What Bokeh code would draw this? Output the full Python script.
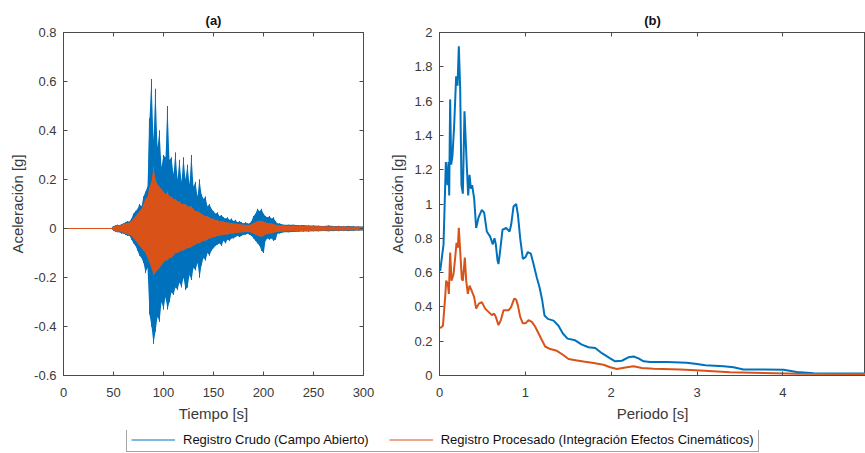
import numpy as np
from bokeh.plotting import figure
from bokeh.layouts import column, row
from bokeh.models import LinearAxis, FixedTicker, Legend, LegendItem, Range1d
from bokeh.embed import file_html
from bokeh.resources import INLINE

# ---------------- data ----------------
# (a) acceleration record: envelope (max / min) read per time bin
t_rec = [0, 48] + list(range(50, 221, 2)) + list(range(225, 301, 5))

crudo_max = [0, 0,
    0.010, 0.012, 0.015, 0.012, 0.018, 0.020, 0.025, 0.030, 0.028, 0.040,
    0.060, 0.070, 0.080, 0.100, 0.090, 0.130, 0.150, 0.170, 0.450, 0.610,
    0.360, 0.570, 0.330, 0.400, 0.250, 0.300, 0.290, 0.500, 0.280, 0.290,
    0.220, 0.310, 0.200, 0.280, 0.190, 0.290, 0.200, 0.260, 0.180, 0.300,
    0.170, 0.190, 0.130, 0.200, 0.140, 0.120, 0.130, 0.090, 0.100, 0.080,
    0.070, 0.060, 0.065, 0.050, 0.055, 0.045, 0.040, 0.045, 0.035, 0.040,
    0.030, 0.035, 0.025, 0.030, 0.025, 0.020, 0.025, 0.020, 0.020, 0.030,
    0.050, 0.060, 0.080, 0.070, 0.080, 0.060, 0.050, 0.045, 0.050, 0.040,
    0.045, 0.030, 0.020, 0.020, 0.018, 0.015,
    0.015, 0.015, 0.013, 0.014, 0.012, 0.012, 0.011, 0.010, 0.012, 0.010,
    0.010, 0.009, 0.010, 0.009, 0.008, 0.008]
crudo_min = [0, 0,
    -0.010, -0.012, -0.015, -0.015, -0.020, -0.020, -0.025, -0.030, -0.030, -0.045,
    -0.060, -0.070, -0.090, -0.110, -0.120, -0.140, -0.180, -0.160, -0.350, -0.400,
    -0.470, -0.420, -0.360, -0.380, -0.300, -0.330, -0.280, -0.330, -0.300, -0.260,
    -0.270, -0.240, -0.250, -0.220, -0.240, -0.200, -0.250, -0.240, -0.190, -0.210,
    -0.160, -0.170, -0.140, -0.200, -0.150, -0.120, -0.130, -0.100, -0.110, -0.090,
    -0.080, -0.070, -0.065, -0.060, -0.070, -0.050, -0.060, -0.045, -0.050, -0.040,
    -0.040, -0.035, -0.030, -0.035, -0.030, -0.025, -0.025, -0.020, -0.025, -0.030,
    -0.040, -0.050, -0.060, -0.070, -0.090, -0.100, -0.050, -0.040, -0.045, -0.040,
    -0.050, -0.045, -0.020, -0.020, -0.018, -0.015,
    -0.015, -0.014, -0.013, -0.012, -0.012, -0.011, -0.011, -0.010, -0.011, -0.010,
    -0.010, -0.009, -0.010, -0.009, -0.008, -0.008]

proc_max = [0, 0,
    0.008, 0.010, 0.012, 0.010, 0.015, 0.018, 0.020, 0.022, 0.025, 0.030,
    0.040, 0.050, 0.060, 0.070, 0.080, 0.100, 0.120, 0.130, 0.170, 0.190,
    0.250, 0.200, 0.180, 0.170, 0.160, 0.150, 0.140, 0.150, 0.130, 0.130,
    0.120, 0.120, 0.110, 0.110, 0.100, 0.100, 0.100, 0.090, 0.090, 0.090,
    0.080, 0.070, 0.070, 0.065, 0.060, 0.055, 0.050, 0.050, 0.045, 0.040,
    0.040, 0.035, 0.035, 0.030, 0.030, 0.028, 0.026, 0.025, 0.023, 0.022,
    0.020, 0.020, 0.018, 0.018, 0.016, 0.015, 0.015, 0.014, 0.014, 0.018,
    0.022, 0.026, 0.030, 0.030, 0.032, 0.028, 0.025, 0.022, 0.020, 0.020,
    0.018, 0.015, 0.014, 0.013, 0.012, 0.012,
    0.011, 0.011, 0.010, 0.010, 0.010, 0.009, 0.009, 0.009, 0.008, 0.008,
    0.008, 0.008, 0.007, 0.007, 0.007, 0.007]
proc_min = [0, 0,
    -0.008, -0.010, -0.012, -0.012, -0.015, -0.018, -0.020, -0.024, -0.026, -0.030,
    -0.040, -0.050, -0.060, -0.070, -0.080, -0.090, -0.100, -0.120, -0.140, -0.160,
    -0.190, -0.180, -0.170, -0.160, -0.150, -0.140, -0.130, -0.130, -0.120, -0.120,
    -0.110, -0.100, -0.100, -0.095, -0.090, -0.090, -0.085, -0.080, -0.080, -0.075,
    -0.070, -0.065, -0.060, -0.060, -0.055, -0.050, -0.050, -0.045, -0.040, -0.040,
    -0.035, -0.035, -0.030, -0.030, -0.028, -0.026, -0.025, -0.024, -0.022, -0.020,
    -0.020, -0.018, -0.018, -0.016, -0.016, -0.015, -0.014, -0.014, -0.014, -0.017,
    -0.020, -0.025, -0.030, -0.032, -0.035, -0.030, -0.025, -0.022, -0.020, -0.020,
    -0.018, -0.015, -0.014, -0.013, -0.012, -0.012,
    -0.011, -0.011, -0.010, -0.010, -0.010, -0.009, -0.009, -0.009, -0.008, -0.008,
    -0.008, -0.008, -0.007, -0.007, -0.007, -0.007]

# (b) response spectra
periodo_crudo = [0.008, 0.047, 0.074, 0.093, 0.105, 0.113, 0.124, 0.136, 0.151, 0.171,
    0.194, 0.210, 0.225, 0.241, 0.256, 0.272, 0.291, 0.318, 0.334, 0.350,
    0.365, 0.380, 0.404, 0.427, 0.454, 0.493, 0.520, 0.551, 0.590, 0.621,
    0.640, 0.656, 0.676, 0.687, 0.707, 0.734, 0.777, 0.816, 0.835, 0.862,
    0.893, 0.913, 0.940, 0.971, 1.002, 1.029, 1.064, 1.095, 1.134, 1.165,
    1.196, 1.223, 1.262, 1.328, 1.386, 1.437, 1.491, 1.580, 1.658, 1.736,
    1.814, 1.891, 1.988, 2.046, 2.124, 2.200, 2.260, 2.318, 2.377, 2.454,
    2.650, 2.880, 3.000, 3.095, 3.310, 3.425, 3.540, 3.775, 4.008, 4.160,
    4.357, 5.000]
sa_crudo = [0.61, 0.765, 1.245, 1.11, 1.245, 1.05, 1.61, 1.23, 1.28, 1.46,
    1.745, 1.69, 1.92, 1.67, 1.11, 1.06, 1.54, 1.22, 1.05, 1.17,
    1.09, 1.11, 1.03, 0.86, 0.92, 0.966, 0.95, 0.84, 0.81, 0.765,
    0.80, 0.765, 0.67, 0.65, 0.73, 0.85, 0.86, 0.84, 0.88, 0.985,
    1.00, 0.94, 0.80, 0.68, 0.69, 0.72, 0.71, 0.65, 0.57, 0.515,
    0.44, 0.35, 0.33, 0.32, 0.29, 0.245, 0.215, 0.205, 0.18, 0.165,
    0.16, 0.13, 0.10, 0.083, 0.086, 0.106, 0.111, 0.10, 0.083, 0.079,
    0.079, 0.075, 0.067, 0.06, 0.054, 0.048, 0.035, 0.035, 0.033, 0.02,
    0.013, 0.012]

periodo_proc = [0.008, 0.040, 0.066, 0.078, 0.097, 0.109, 0.124, 0.140, 0.163, 0.183,
    0.198, 0.214, 0.225, 0.241, 0.260, 0.272, 0.295, 0.311, 0.330, 0.350,
    0.373, 0.404, 0.427, 0.458, 0.493, 0.532, 0.571, 0.610, 0.637, 0.656,
    0.687, 0.715, 0.746, 0.804, 0.835, 0.870, 0.893, 0.913, 0.940, 0.971,
    1.002, 1.037, 1.076, 1.115, 1.153, 1.192, 1.231, 1.290, 1.367, 1.437,
    1.503, 1.600, 1.678, 1.794, 1.910, 1.988, 2.066, 2.183, 2.260, 2.357,
    2.493, 2.804, 3.037, 3.386, 3.775, 4.163, 5.000]
sa_proc = [0.275, 0.29, 0.457, 0.553, 0.534, 0.476, 0.717, 0.553, 0.59, 0.688,
    0.774, 0.745, 0.861, 0.726, 0.563, 0.553, 0.688, 0.553, 0.476, 0.524,
    0.496, 0.457, 0.39, 0.419, 0.428, 0.39, 0.371, 0.352, 0.361, 0.342,
    0.294, 0.323, 0.38, 0.38, 0.40, 0.448, 0.442, 0.409, 0.342, 0.304,
    0.304, 0.323, 0.313, 0.284, 0.246, 0.207, 0.169, 0.154, 0.144, 0.121,
    0.096, 0.088, 0.081, 0.073, 0.063, 0.048, 0.038, 0.048, 0.054, 0.044,
    0.04, 0.035, 0.029, 0.019, 0.015, 0.01, 0.008]

xa_ticks = [0, 50, 100, 150, 200, 250, 300]
ya_ticks = [-0.6, -0.4, -0.2, 0, 0.2, 0.4, 0.6, 0.8]
ya_labels = ["-0.6", "-0.4", "-0.2", "0", "0.2", "0.4", "0.6", "0.8"]
xb_ticks = [0, 1, 2, 3, 4, 5]
yb_ticks = [0, 0.2, 0.4, 0.6, 0.8, 1, 1.2, 1.4, 1.6, 1.8, 2]
yb_labels = ["0", "0.2", "0.4", "0.6", "0.8", "1", "1.2", "1.4", "1.6", "1.8", "2"]

lbl_crudo = "Registro Crudo (Campo Abierto)"
lbl_proc = "Registro Procesado (Integración Efectos Cinemáticos)"

# ---------------- style ----------------
FONT = "Liberation Sans"
TXT = "#3a3a3a"
AXC = "#4a4a4a"
BLUE = "#0072BD"
ORANGE = "#D95319"


def style_axis(ax, ticks, labels=None, show=True, label=None, standoff=7):
    ax.ticker = FixedTicker(ticks=ticks)
    ax.major_tick_in = 4
    ax.major_tick_out = 0
    ax.minor_tick_line_color = None
    ax.axis_line_color = AXC
    ax.major_tick_line_color = AXC
    ax.major_label_text_font = FONT
    if show:
        if labels is not None:
            ax.major_label_overrides = {t: l for t, l in zip(ticks, labels)}
        ax.major_label_text_color = TXT
        ax.major_label_text_font_size = "13px"
        ax.major_label_standoff = standoff
    else:
        ax.major_label_text_color = None
        ax.major_label_text_font_size = "1px"
        ax.major_label_standoff = 0
    if label:
        ax.axis_label = label
        ax.axis_label_text_font = FONT
        ax.axis_label_text_font_size = "15px"
        ax.axis_label_text_font_style = "normal"
        ax.axis_label_text_color = TXT
        ax.axis_label_standoff = 5


def base_fig(title, w, h, xr, yr, bl, br, bt, bb):
    p = figure(width=w, height=h, x_range=xr, y_range=yr,
               output_backend="svg", toolbar_location=None,
               min_border_left=bl, min_border_right=br,
               min_border_top=bt, min_border_bottom=bb)
    p.xgrid.visible = False
    p.ygrid.visible = False
    p.outline_line_color = AXC
    p.outline_line_width = 1
    p.title.text = title
    p.title.align = "center"
    p.title.text_font = FONT
    p.title.text_font_size = "13px"
    p.title.text_font_style = "bold"
    p.title.text_color = "#111111"
    p.background_fill_color = "white"
    p.border_fill_color = "white"
    return p


# ---------------- panel (a) ----------------
pa = base_fig("(a)", 385, 430, Range1d(0, 300), Range1d(-0.6, 0.8), 63, 22, 32, 55)
style_axis(pa.xaxis[0], xa_ticks, label="Tiempo [s]", standoff=12)
style_axis(pa.yaxis[0], ya_ticks, ya_labels, label="Aceleración [g]")
top_a = LinearAxis()
right_a = LinearAxis()
style_axis(top_a, xa_ticks, show=False)
style_axis(right_a, ya_ticks, show=False)
pa.add_layout(top_a, "above")
pa.add_layout(right_a, "right")

t_arr = np.array(t_rec, dtype=float)


def zigzag(hi, lo):
    xs = np.repeat(t_arr, 2)
    ys = np.empty(2 * len(t_arr))
    ys[0::2] = hi
    ys[1::2] = lo
    return xs, ys


for hi, lo, col in ((crudo_max, crudo_min, BLUE), (proc_max, proc_min, ORANGE)):
    pa.varea(x=t_arr, y1=np.array(lo), y2=np.array(hi), fill_color=col)
    xs, ys = zigzag(np.array(hi), np.array(lo))
    pa.line(xs, ys, line_color=col, line_width=1)

# ---------------- panel (b) ----------------
pb = base_fig("(b)", 480, 430, Range1d(0, 4.962), Range1d(0, 2), 54, 0, 32, 51)
style_axis(pb.xaxis[0], xb_ticks, label="Periodo [s]", standoff=12)
style_axis(pb.yaxis[0], yb_ticks, yb_labels, label="Aceleración [g]")
top_b = LinearAxis()
style_axis(top_b, xb_ticks, show=False)
pb.add_layout(top_b, "above")

pb.line(periodo_crudo, sa_crudo, line_color=BLUE, line_width=2)
pb.line(periodo_proc, sa_proc, line_color=ORANGE, line_width=2)

# ---------------- legend strip ----------------
pl = figure(width=865, height=23, x_range=Range1d(0, 1), y_range=Range1d(0, 1),
            x_axis_type=None, y_axis_type=None, output_backend="svg",
            toolbar_location=None, min_border=0)
pl.outline_line_color = None
pl.xgrid.visible = False
pl.ygrid.visible = False
# renderers kept outside the visible range: they only feed the legend
r1 = pl.line([5, 6], [5, 6], line_color=BLUE, line_width=1)
r2 = pl.line([5, 6], [5, 6], line_color=ORANGE, line_width=1)
leg = Legend(items=[LegendItem(label=lbl_crudo, renderers=[r1]),
                    LegendItem(label=lbl_proc, renderers=[r2])],
             orientation="horizontal", location=(126, 1))
leg.label_text_font = FONT
leg.label_text_font_size = "13px"
leg.label_text_color = "#111111"
leg.glyph_width = 44
leg.glyph_height = 13
leg.label_height = 13
leg.label_standoff = 8
leg.spacing = 20
leg.padding = 4
leg.margin = 0
leg.border_line_color = AXC
leg.border_line_width = 1
leg.background_fill_alpha = 1
pl.add_layout(leg, "center")

layout = column(row(pa, pb), pl)
open("out.html", "w").write(file_html(layout, INLINE))
